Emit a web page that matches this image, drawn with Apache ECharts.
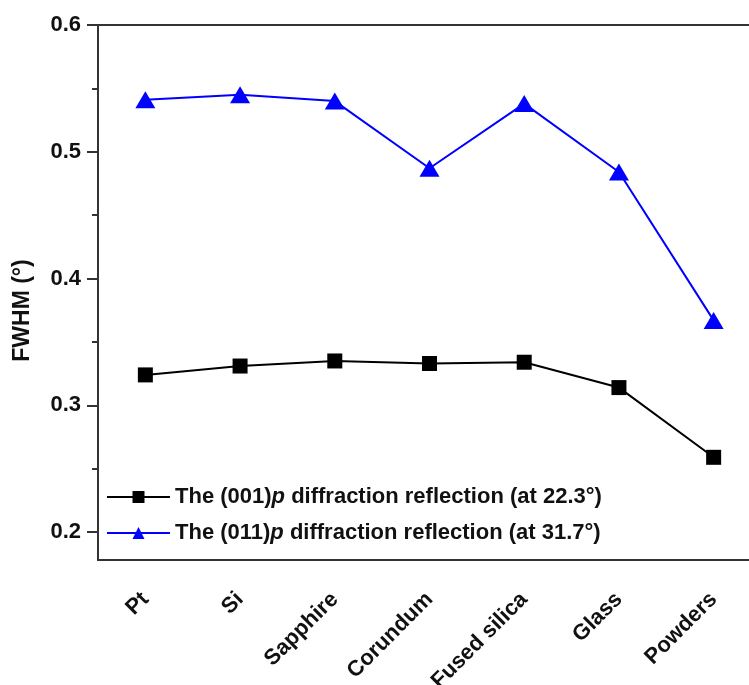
<!DOCTYPE html>
<html>
<head>
<meta charset="utf-8">
<script src="https://cdn.jsdelivr.net/npm/echarts@6/dist/echarts.min.js"></script>
<style>
  html, body { margin: 0; padding: 0; background: #fff; }
  #chart { width: 749px; height: 685px; }
</style>
</head>
<body>
<div id="chart"></div>
<script>
var categories = ['Pt', 'Si', 'Sapphire', 'Corundum', 'Fused silica', 'Glass', 'Powders'];
var fwhm001 = [0.324, 0.331, 0.335, 0.333, 0.334, 0.314, 0.259];
var fwhm011 = [0.541, 0.545, 0.540, 0.487, 0.538, 0.484, 0.367];
var majorTicks = [0.2, 0.3, 0.4, 0.5, 0.6];
var minorTicks = [0.25, 0.35, 0.45, 0.55];

var font = 'Liberation Sans, Arial, sans-serif';
var chart = echarts.init(document.getElementById('chart'));

var option = {
    backgroundColor: '#fff',
    animation: false,
    grid: {
        left: 98,
        top: 25,
        width: 663,
        bottom: 125,
        containLabel: false,
        outerBoundsMode: 'none',
        show: true,
        borderColor: '#333',
        borderWidth: 2
    },
    legend: {
        orient: 'vertical',
        left: 101,
        top: 481,
        itemWidth: 63,
        itemHeight: 15,
        itemGap: 14,
        textStyle: {
            fontFamily: font,
            fontWeight: 'bold',
            fontSize: 22,
            color: '#111',
            rich: {
                i: { fontFamily: font, fontWeight: 'bold', fontStyle: 'italic', fontSize: 22, color: '#111' }
            }
        },
        formatter: function (name) {
            return name.replace(')p ', '){i|p} ');
        },
        data: ['The (001)p diffraction reflection (at 22.3°)', 'The (011)p diffraction reflection (at 31.7°)']
    },
    xAxis: {
        type: 'category',
        data: categories,
        boundaryGap: true,
        axisLine: { lineStyle: { color: '#333', width: 2 } },
        axisTick: { alignWithLabel: true, length: 10, inside: false, lineStyle: { color: '#333', width: 2 } },
        axisLabel: {
            rotate: 45,
            margin: 36,
            fontFamily: font,
            fontWeight: 'bold',
            fontSize: 22,
            color: '#111'
        }
    },
    yAxis: [{
        type: 'value',
        min: 0.178,
        max: 0.6,
        name: 'FWHM (°)',
        nameLocation: 'middle',
        nameGap: 64,
        nameTextStyle: {
            fontFamily: font, fontWeight: 'bold', fontSize: 23, color: '#111',
            padding: [0, 36, 0, 0]
        },
        splitLine: { show: false },
        axisLine: { show: true, lineStyle: { color: '#333', width: 2 } },
        axisTick: { show: true, length: 11, customValues: majorTicks, lineStyle: { color: '#333', width: 2 } },
        axisLabel: {
            customValues: majorTicks,
            margin: 17,
            fontFamily: font,
            fontWeight: 'bold',
            fontSize: 22,
            color: '#111',
            formatter: function (v) { return v.toFixed(1); }
        }
    }, {
        type: 'value',
        position: 'left',
        min: 0.178,
        max: 0.6,
        splitLine: { show: false },
        axisLine: { show: false },
        axisTick: { show: true, length: 6, customValues: minorTicks, lineStyle: { color: '#333', width: 2 } },
        axisLabel: { show: false }
    }],
    series: [{
        name: 'The (001)p diffraction reflection (at 22.3°)',
        type: 'line',
        data: fwhm001,
        symbol: 'rect',
        symbolSize: 15,
        color: '#000',
        lineStyle: { color: '#000', width: 2 },
        itemStyle: { color: '#000' }
    }, {
        name: 'The (011)p diffraction reflection (at 31.7°)',
        type: 'line',
        data: fwhm011,
        symbol: 'triangle',
        symbolSize: [20, 17],
        color: '#0000ff',
        lineStyle: { color: '#0000ff', width: 2 },
        itemStyle: { color: '#0000ff' }
    }]
};

chart.setOption(option);
</script>
</body>
</html>
